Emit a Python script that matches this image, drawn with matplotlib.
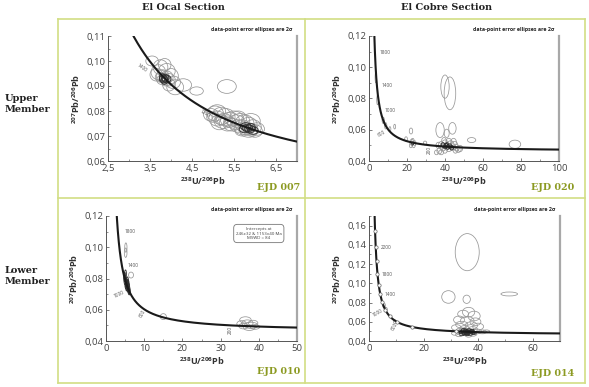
import numpy as np
import matplotlib
matplotlib.use("Agg")
import matplotlib.pyplot as plt
from matplotlib.patches import Ellipse
from matplotlib.lines import Line2D
from matplotlib.ticker import FuncFormatter, MultipleLocator, FixedLocator

BORDER, OLIVE, ELL, DARK, INK = "#d2de84", "#8c9a22", "#979797", "#2e2e2e", "#333333"
W, H = 589, 387

# decay constants (per Ma) for the concordia curve
L238, L235, U85 = 1.55125e-4, 9.8485e-4, 137.88
curve_ages = np.geomspace(30, 4000, 800)
marker_ages = [200, 400, 600, 800, 1000, 1200, 1400, 1600, 1800, 2000, 2200, 2400]

# ellipses: (238U/206Pb, 207Pb/206Pb, width, height)
ocal_upper = [
    (3.55, 0.1000, 0.30, 0.004), (3.75, 0.0975, 0.35, 0.006), (3.85, 0.0985, 0.30, 0.005),
    (3.70, 0.0955, 0.35, 0.006), (3.90, 0.0960, 0.40, 0.006), (3.80, 0.0940, 0.30, 0.005),
    (3.85, 0.0930, 0.25, 0.004), (3.90, 0.0935, 0.30, 0.005), (3.80, 0.0925, 0.28, 0.004),
    (3.95, 0.0925, 0.30, 0.005), (3.75, 0.0935, 0.25, 0.004), (3.88, 0.0920, 0.22, 0.004),
    (4.00, 0.0940, 0.35, 0.006), (4.05, 0.0915, 0.35, 0.005), (3.65, 0.0945, 0.30, 0.005),
    (3.95, 0.0905, 0.30, 0.005), (4.29, 0.0904, 0.40, 0.005), (4.10, 0.0895, 0.40, 0.006),
    (4.61, 0.0880, 0.32, 0.0033), (5.33, 0.0898, 0.45, 0.0055),
    (4.95, 0.0785, 0.35, 0.005), (5.05, 0.0790, 0.40, 0.006), (5.10, 0.0770, 0.40, 0.006),
    (5.20, 0.0780, 0.45, 0.007), (5.15, 0.0755, 0.40, 0.006), (5.25, 0.0760, 0.45, 0.006),
    (5.30, 0.0775, 0.45, 0.007), (5.35, 0.0750, 0.40, 0.006), (5.40, 0.0765, 0.45, 0.006),
    (5.45, 0.0745, 0.40, 0.005), (5.50, 0.0770, 0.45, 0.006), (5.55, 0.0755, 0.40, 0.006),
    (5.60, 0.0740, 0.40, 0.005), (5.65, 0.0760, 0.45, 0.006), (5.70, 0.0735, 0.40, 0.006),
    (5.75, 0.0750, 0.45, 0.007), (5.80, 0.0730, 0.40, 0.005), (5.85, 0.0745, 0.40, 0.006),
    (5.90, 0.0725, 0.35, 0.005), (5.95, 0.0735, 0.40, 0.006), (6.00, 0.0720, 0.35, 0.005),
    (5.85, 0.0715, 0.40, 0.004), (5.70, 0.0720, 0.35, 0.004), (6.05, 0.0728, 0.35, 0.005),
    (5.60, 0.0770, 0.40, 0.006), (5.90, 0.0760, 0.45, 0.006), (5.10, 0.0800, 0.40, 0.005),
    (5.20, 0.0765, 0.30, 0.004), (5.40, 0.0755, 0.30, 0.004), (5.00, 0.0775, 0.30, 0.004),
]
ocal_upper_core = [
    (3.82, 0.0928, 0.20, 0.003), (3.86, 0.0932, 0.18, 0.003), (3.90, 0.0928, 0.20, 0.003),
    (3.84, 0.0922, 0.16, 0.003), (3.80, 0.0934, 0.16, 0.003), (5.75, 0.0728, 0.25, 0.003),
    (5.82, 0.0732, 0.25, 0.003), (5.88, 0.0728, 0.25, 0.003), (5.95, 0.0722, 0.25, 0.003),
    (5.78, 0.0738, 0.25, 0.003), (5.90, 0.0735, 0.22, 0.003),
]
cobre_upper = [
    (40.0, 0.0876, 4.4, 0.0149), (42.6, 0.0833, 6.1, 0.0210), (37.4, 0.0598, 4.4, 0.0096),
    (40.9, 0.0577, 2.6, 0.0053), (43.9, 0.0609, 3.9, 0.0075), (54.0, 0.0534, 4.4, 0.0032),
    (76.8, 0.0507, 6.1, 0.0053), (22.1, 0.0592, 1.8, 0.0038), (11.0, 0.0605, 1.0, 0.0030),
    (13.5, 0.0620, 1.0, 0.0030), (19.5, 0.0540, 1.5, 0.0030), (29.5, 0.0515, 1.8, 0.0025),
    (22.5, 0.0520, 1.8, 0.0040), (23.5, 0.0505, 1.8, 0.0040), (24.0, 0.0515, 1.5, 0.0030),
    (22.0, 0.0500, 1.5, 0.0030), (23.0, 0.0530, 1.5, 0.0030),
    (38.0, 0.0500, 3.0, 0.0050), (39.0, 0.0485, 3.0, 0.0040), (40.0, 0.0510, 3.5, 0.0050),
    (41.0, 0.0495, 3.0, 0.0040), (42.0, 0.0480, 3.0, 0.0040), (43.0, 0.0505, 3.5, 0.0050),
    (44.0, 0.0490, 3.0, 0.0040), (45.0, 0.0500, 3.5, 0.0050), (46.0, 0.0485, 3.0, 0.0040),
    (47.0, 0.0475, 3.0, 0.0040), (40.0, 0.0470, 2.5, 0.0040), (37.0, 0.0465, 2.5, 0.0040),
    (36.5, 0.0500, 2.5, 0.0040), (42.0, 0.0525, 3.0, 0.0040), (44.5, 0.0520, 3.0, 0.0050),
    (39.5, 0.0530, 2.5, 0.0040), (45.5, 0.0470, 2.5, 0.0040), (48.0, 0.0480, 2.5, 0.0040),
    (35.5, 0.0455, 2.0, 0.0030), (38.0, 0.0455, 2.5, 0.0030),
    (3.6, 0.0935, 0.8, 0.0070), (4.5, 0.0790, 0.9, 0.0060), (7.5, 0.0660, 1.2, 0.0040),
    (8.8, 0.0625, 1.2, 0.0040),
]
cobre_upper_core = [
    (41.5, 0.0490, 2.0, 0.003), (40.5, 0.0498, 2.0, 0.003), (39.0, 0.0502, 2.0, 0.003),
    (42.5, 0.0495, 2.0, 0.003), (43.5, 0.0485, 2.0, 0.003), (23.0, 0.0512, 1.0, 0.002),
    (40.0, 0.0490, 1.6, 0.0025), (41.0, 0.0505, 1.6, 0.0025),
]
ocal_lower = [
    (5.15, 0.0965, 0.7, 0.0060), (5.20, 0.0998, 0.6, 0.0060), (6.55, 0.0822, 1.3, 0.0038),
    (15.0, 0.0556, 1.6, 0.0038),
    (36.5, 0.0535, 3.0, 0.0040), (37.0, 0.0515, 3.0, 0.0040), (38.0, 0.0500, 3.5, 0.0040),
    (36.0, 0.0495, 2.5, 0.0035), (37.5, 0.0485, 3.0, 0.0035), (38.5, 0.0515, 2.5, 0.0035),
    (35.5, 0.0510, 2.5, 0.0040), (39.0, 0.0490, 2.5, 0.0030),
]
ocal_lower_core = [
    (5.0, 0.0790, 0.6, 0.006), (5.3, 0.0775, 0.6, 0.006), (5.5, 0.0760, 0.7, 0.007),
    (5.7, 0.0750, 0.6, 0.006), (5.9, 0.0740, 0.6, 0.006), (6.0, 0.0725, 0.6, 0.005),
    (5.2, 0.0760, 0.5, 0.005), (5.6, 0.0780, 0.6, 0.006), (5.4, 0.0745, 0.5, 0.005),
    (6.1, 0.0715, 0.5, 0.004), (4.9, 0.0810, 0.5, 0.006), (5.8, 0.0765, 0.5, 0.005),
    (5.1, 0.0830, 0.5, 0.005), (5.45, 0.0770, 0.4, 0.004), (5.75, 0.0735, 0.4, 0.004),
]
cobre_lower = [
    (36.0, 0.1324, 8.8, 0.0386), (29.1, 0.0858, 4.9, 0.0131), (35.8, 0.0834, 2.7, 0.0086),
    (51.4, 0.0889, 6.1, 0.0041),
    (36.5, 0.0700, 4.5, 0.010), (34.5, 0.0680, 4.0, 0.008), (38.5, 0.0660, 4.5, 0.010),
    (33.0, 0.0620, 4.0, 0.008), (36.0, 0.0610, 5.0, 0.009), (39.0, 0.0600, 4.0, 0.008),
    (34.0, 0.0570, 4.5, 0.007), (37.5, 0.0560, 4.5, 0.008), (32.0, 0.0540, 3.5, 0.006),
    (40.0, 0.0550, 4.0, 0.007), (35.0, 0.0530, 3.5, 0.006), (38.0, 0.0520, 3.5, 0.006),
    (33.5, 0.0510, 3.0, 0.005), (36.0, 0.0505, 3.0, 0.005), (39.5, 0.0500, 3.5, 0.005),
    (41.5, 0.0495, 3.0, 0.004), (34.5, 0.0490, 3.0, 0.005), (37.0, 0.0485, 3.0, 0.005),
    (35.5, 0.0475, 2.5, 0.004), (38.0, 0.0470, 3.0, 0.004), (33.0, 0.0465, 2.5, 0.004),
    (36.5, 0.0460, 2.5, 0.004), (31.5, 0.0480, 2.5, 0.004), (43.0, 0.0500, 2.5, 0.003),
    (5.5, 0.0770, 1.0, 0.005), (6.2, 0.0730, 1.0, 0.004), (9.5, 0.0600, 1.0, 0.004),
]
cobre_lower_core = [
    (34.5, 0.0500, 2.0, 0.003), (35.5, 0.0505, 2.0, 0.003), (36.5, 0.0495, 2.0, 0.003),
    (37.5, 0.0500, 2.0, 0.003), (35.0, 0.0485, 2.0, 0.003), (36.0, 0.0480, 2.0, 0.003),
    (37.0, 0.0475, 2.0, 0.003), (34.0, 0.0470, 2.0, 0.003), (38.0, 0.0490, 2.0, 0.003),
    (35.8, 0.0492, 2.0, 0.003), (36.8, 0.0512, 2.0, 0.003), (34.8, 0.0515, 2.0, 0.003),
    (35.2, 0.0495, 1.5, 0.0025), (36.2, 0.0500, 1.5, 0.0025), (37.2, 0.0490, 1.5, 0.0025),
    (33.8, 0.0490, 1.5, 0.0025), (36.0, 0.0468, 1.5, 0.0025), (35.0, 0.0475, 1.5, 0.0025),
    (37.8, 0.0510, 1.5, 0.0025), (38.5, 0.0480, 1.5, 0.0025),
]

# concordia age labels: (text, x, y, rotation)
ocal_upper_ages = [("1400", 3.32, 0.0972, -35), ("1200", 4.80, 0.0790, -30)]
cobre_upper_ages = [("1800", 8.5, 0.1096, 0), ("1400", 9.4, 0.0886, 0), ("1000", 11.0, 0.0726, 0),
                    ("600", 6.7, 0.0577, 30), ("200", 31.6, 0.0470, 90)]
ocal_lower_ages = [("1800", 6.2, 0.1100, 0), ("1400", 7.1, 0.0886, 0), ("1000", 3.4, 0.0699, 25),
                   ("600", 9.5, 0.0577, 60), ("200", 32.6, 0.0470, 90)]
cobre_lower_ages = [("2200", 6.4, 0.1370, 0), ("1800", 6.6, 0.1090, 0), ("1400", 7.6, 0.0886, 0),
                    ("1000", 3.0, 0.0687, 30), ("600", 9.2, 0.0548, 60)]


def concordia(t):
    e8 = np.expm1(L238 * np.asarray(t, float))
    return 1 / e8, np.expm1(L235 * np.asarray(t, float)) / e8 / U85


def box(l, t, r, b):
    return [l / W, 1 - b / H, (r - l) / W, (b - t) / H]


def comma(fmt):
    return FuncFormatter(lambda v, p: format(v, fmt).replace(".", ","))


def panel(rect, ells, core, ages, xlim, ylim, xmaj, xmin, ymaj, ymin, xfmt, markers=False):
    ax = fig.add_axes(box(*rect))
    ax.set_xlim(xlim)
    ax.set_ylim(ylim)
    for cx, cy, w, h in ells:
        ax.add_patch(Ellipse((cx, cy), w, h, fill=False, ec=ELL, lw=0.55, zorder=2))
    for cx, cy, w, h in core:
        ax.add_patch(Ellipse((cx, cy), w, h, fill=False, ec=DARK, lw=0.6, zorder=2))
    cx_, cy_ = concordia(curve_ages)
    ax.plot(cx_, cy_, color="#1a1a1a", lw=1.5, zorder=3)
    if markers:
        mx, my = concordia(marker_ages)
        ax.plot(mx, my, "o", ms=2.4, mfc="white", mec="#666666", mew=0.5, zorder=4)
    for txt, x, y, rot in ages:
        ax.text(x, y, txt, fontsize=3.4, color="#555555", rotation=rot,
                ha="center", va="center", zorder=4)
    ax.xaxis.set_major_locator(FixedLocator(xmaj))
    ax.xaxis.set_minor_locator(MultipleLocator(xmin))
    ax.yaxis.set_major_locator(MultipleLocator(ymaj))
    ax.yaxis.set_minor_locator(MultipleLocator(ymin))
    ax.xaxis.set_major_formatter(comma(xfmt))
    ax.yaxis.set_major_formatter(comma(".2f"))
    ax.tick_params(which="both", direction="in", colors="#666666", labelcolor="#444444",
                   labelsize=6.8, pad=2)
    ax.tick_params(which="major", length=2.5, width=0.6)
    ax.tick_params(which="minor", length=1.5, width=0.5)
    ax.spines["top"].set_visible(False)
    ax.spines["right"].set_color("#a8a8a8")
    ax.spines["right"].set_linewidth(1.6)
    for s in ("left", "bottom"):
        ax.spines[s].set_color("#555555")
        ax.spines[s].set_linewidth(0.7)
    ax.set_xlabel(r"$^{238}$U/$^{206}$Pb", fontsize=6.5, color=INK, labelpad=2,
                  fontweight="bold")
    ax.set_ylabel(r"$^{207}$Pb/$^{206}$Pb", fontsize=6.5, color=INK, labelpad=3,
                  fontweight="bold")
    ax.text(0.975, 1.05, "data-point error ellipses are 2σ", transform=ax.transAxes,
            ha="right", va="center", fontsize=3.8, fontweight="bold", color="#222222")
    return ax


plt.rcParams["font.family"] = ["Open Sans", "DejaVu Sans"]
plt.rcParams["mathtext.default"] = "regular"
fig = plt.figure(figsize=(W / 100, H / 100), dpi=100)
fig.patch.set_facecolor("white")

panel((108, 36, 297, 161), ocal_upper, ocal_upper_core, ocal_upper_ages, (2.5, 7.0),
      (0.06, 0.11), [2.5, 3.5, 4.5, 5.5, 6.5], 0.5, 0.01, 0.005, ".1f")
panel((369, 36, 559, 161), cobre_upper, cobre_upper_core, cobre_upper_ages, (0, 100),
      (0.04, 0.12), [0, 20, 40, 60, 80, 100], 10, 0.02, 0.01, ".0f")
ax3 = panel((106, 216, 297, 341), ocal_lower, ocal_lower_core, ocal_lower_ages, (0, 50),
            (0.04, 0.12), [0, 10, 20, 30, 40, 50], 5, 0.02, 0.01, ".0f")
panel((369, 216, 560, 341), cobre_lower, cobre_lower_core, cobre_lower_ages, (0, 70),
      (0.04, 0.17), [0, 20, 40, 60], 10, 0.02, 0.01, ".0f", markers=True)

ax3.text(0.80, 0.86, "Intercepts at\n246±32 & 1153±40 Ma\nMSWD = 84", transform=ax3.transAxes,
         ha="center", va="center", fontsize=3.2, color="#444444", linespacing=1.3,
         bbox=dict(boxstyle="round,pad=0.5,rounding_size=0.8", fc="white", ec="#777777", lw=0.6))

# table frame
for x0, y0, x1, y1 in [(58, 19, 585, 19), (58, 383, 585, 383), (58, 19, 58, 383),
                       (585, 19, 585, 383), (305, 19, 305, 383), (58, 198, 585, 198)]:
    fig.add_artist(Line2D([x0 / W, x1 / W], [1 - y0 / H, 1 - y1 / H], color=BORDER, lw=1.2))

serif = ["DejaVu Serif"]
fig.text(183 / W, 1 - 8 / H, "El Ocal Section", ha="center", va="center", fontsize=7,
         fontweight="bold", family=serif, color="#222222")
fig.text(447 / W, 1 - 8 / H, "El Cobre Section", ha="center", va="center", fontsize=7,
         fontweight="bold", family=serif, color="#222222")
fig.text(5 / W, 1 - 104 / H, "Upper\nMember", ha="left", va="center", fontsize=7,
         fontweight="bold", family=serif, color="#222222", linespacing=1.2)
fig.text(5 / W, 1 - 276 / H, "Lower\nMember", ha="left", va="center", fontsize=7,
         fontweight="bold", family=serif, color="#222222", linespacing=1.2)
for label, x, y in [("EJD 007", 300, 188), ("EJD 020", 574, 188),
                    ("EJD 010", 300, 371), ("EJD 014", 574, 373)]:
    fig.text(x / W, 1 - y / H, label, ha="right", va="center", fontsize=6.8,
             fontweight="bold", family=serif, color=OLIVE)

fig.savefig("out.png", dpi=100)
